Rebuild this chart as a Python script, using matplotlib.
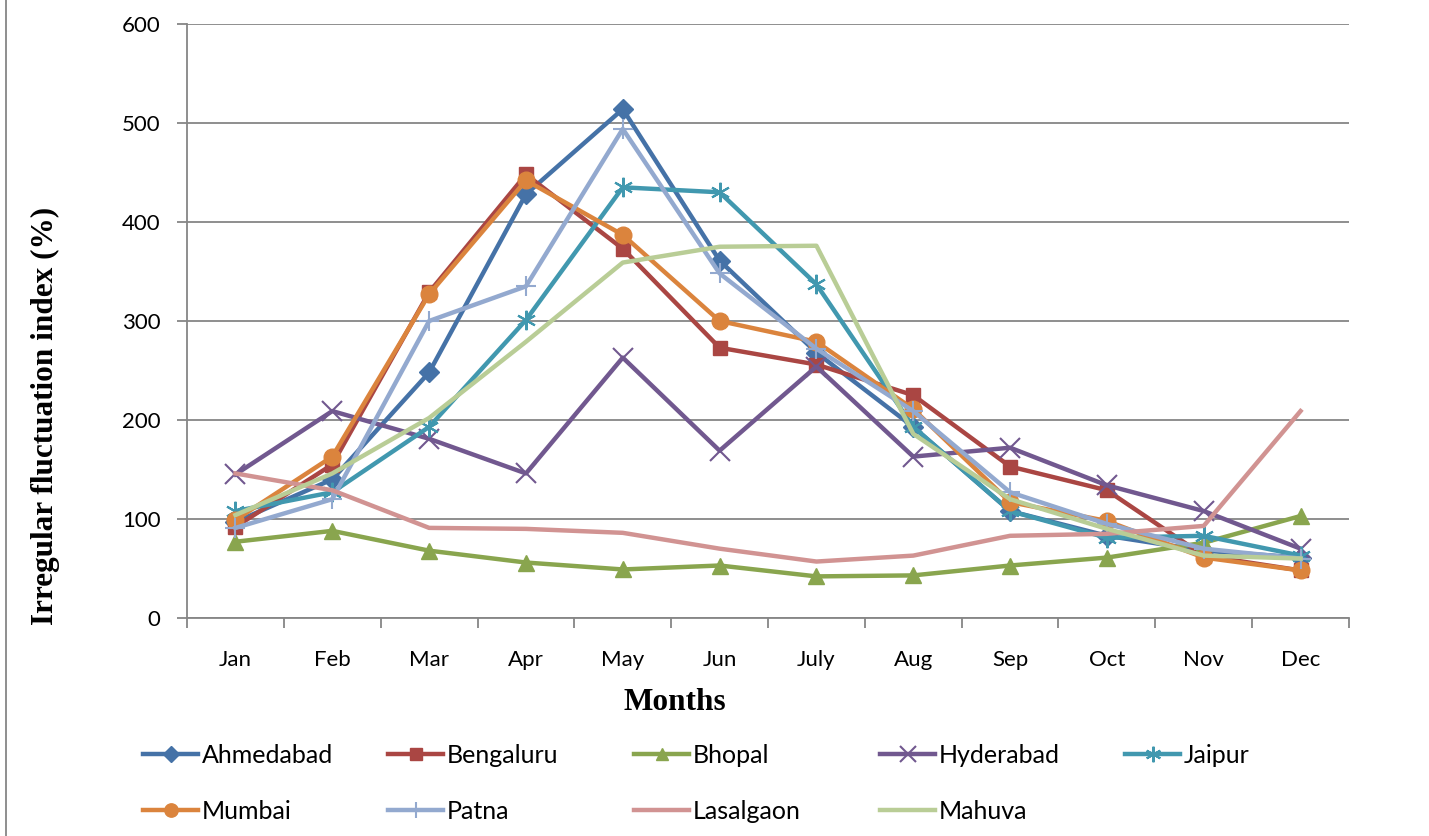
import matplotlib.pyplot as plt
import matplotlib.lines as mlines
import numpy as np

months = ["Jan", "Feb", "Mar", "Apr", "May", "Jun", "July", "Aug", "Sep", "Oct", "Nov", "Dec"]

ahmedabad = [97, 140, 248, 428, 514, 361, 268, 193, 108, 83, 68, 61]
bengaluru = [92, 155, 329, 448, 373, 273, 256, 225, 153, 129, 63, 48]
bhopal = [77, 88, 68, 56, 49, 53, 42, 43, 53, 61, 76, 103]
hyderabad = [145, 209, 181, 146, 263, 169, 254, 163, 172, 134, 108, 70]
jaipur = [108, 127, 193, 301, 435, 430, 337, 193, 108, 81, 83, 63]
mumbai = [99, 163, 327, 442, 387, 300, 279, 211, 117, 98, 61, 48]
patna = [91, 120, 300, 335, 494, 348, 272, 209, 127, 95, 70, 60]
lasalgaon = [146, 129, 91, 90, 86, 70, 57, 63, 83, 85, 93, 209]
mahuva = [104, 146, 202, 279, 359, 375, 376, 186, 120, 90, 63, 60]

series = [
    ("Ahmedabad", ahmedabad, "#4572A7", "D"),
    ("Bengaluru", bengaluru, "#AA4643", "s"),
    ("Bhopal", bhopal, "#89A54E", "^"),
    ("Hyderabad", hyderabad, "#71588F", "x"),
    ("Jaipur", jaipur, "#4198AF", "*"),
    ("Mumbai", mumbai, "#DB843D", "o"),
    ("Patna", patna, "#93A9CF", "+"),
    ("Lasalgaon", lasalgaon, "#D19392", None),
    ("Mahuva", mahuva, "#B9CD96", None),
]

plt.rcParams['font.family'] = ['Lato', 'DejaVu Sans']
fs = 16

fig = plt.figure(figsize=(14.29, 8.36), dpi=100)
ax = fig.add_axes([0.1309, 0.2608, 0.8131, 0.7105])

x = np.arange(len(months))
handles = []
for name, vals, col, mk in series:
    if mk in ("x", "+"):
        ln, = ax.plot(x, vals, color=col, lw=3.2, marker=mk, markersize=14, markeredgewidth=1.5, label=name)
    elif mk == "*":
        # asterisk: x with a vertical bar
        ln, = ax.plot(x, vals, color=col, lw=3.2, marker=(6, 2, 0), markersize=14, markeredgewidth=1.5, label=name)
    elif mk is None:
        ln, = ax.plot(x, vals, color=col, lw=3.2, label=name)
    else:
        ms = {"o": 12, "^": 11, "s": 10.5, "D": 10}[mk]
        ln, = ax.plot(x, vals, color=col, lw=3.2, marker=mk, markersize=ms, markeredgecolor=col, label=name)
    handles.append(ln)

ax.set_xlim(-0.5, 11.5)
ax.set_ylim(0, 600)
ax.set_yticks(np.arange(0, 601, 100))
ax.yaxis.grid(True, color="#868686", lw=1.3)
ax.set_axisbelow(True)

ax.set_xticks(np.arange(-0.5, 12, 1))
ax.set_xticklabels([])
ax.set_xticks(x, minor=True)
ax.set_xticklabels(months, minor=True, fontsize=fs)
ax.tick_params(axis="x", which="minor", length=0, pad=23)
ax.tick_params(axis="x", which="major", length=7, color="#868686", width=1.3, direction="out")
ax.tick_params(axis="y", length=7, color="#868686", width=1.3, labelsize=fs, pad=12)

for s in ["top", "right"]:
    ax.spines[s].set_visible(False)
for s in ["left", "bottom"]:
    ax.spines[s].set_color("#868686")
    ax.spines[s].set_linewidth(1.3)

fig.text(45 / 1429, 1 - 416 / 836, "Irregular fluctuation index (%)", fontsize=22.5, fontweight="bold",
         family="Liberation Serif", rotation=90, ha="center", va="center")
fig.text(675 / 1429, 1 - 702 / 836, "Months", fontsize=22.5, fontweight="bold",
         family="Liberation Serif", ha="center", va="center")

# legend: one column per legend so columns sit at fixed positions
col_x = [143, 388, 634, 880, 1125]
for i, cx in enumerate(col_x):
    hs = [handles[i]] + ([handles[i + 5]] if i + 5 < len(handles) else [])
    fig.legend(handles=hs, loc="upper left", bbox_to_anchor=(cx / 1429, 1 - 744 / 836),
               frameon=False, fontsize=18, handlelength=2.2, handletextpad=0.16,
               labelspacing=1.32, borderpad=0, borderaxespad=0, markerscale=0.8)

fig.add_artist(mlines.Line2D([6 / 1429, 6 / 1429], [0, 1], color="#868686", lw=1.3))

fig.savefig("out.png", dpi=100)
